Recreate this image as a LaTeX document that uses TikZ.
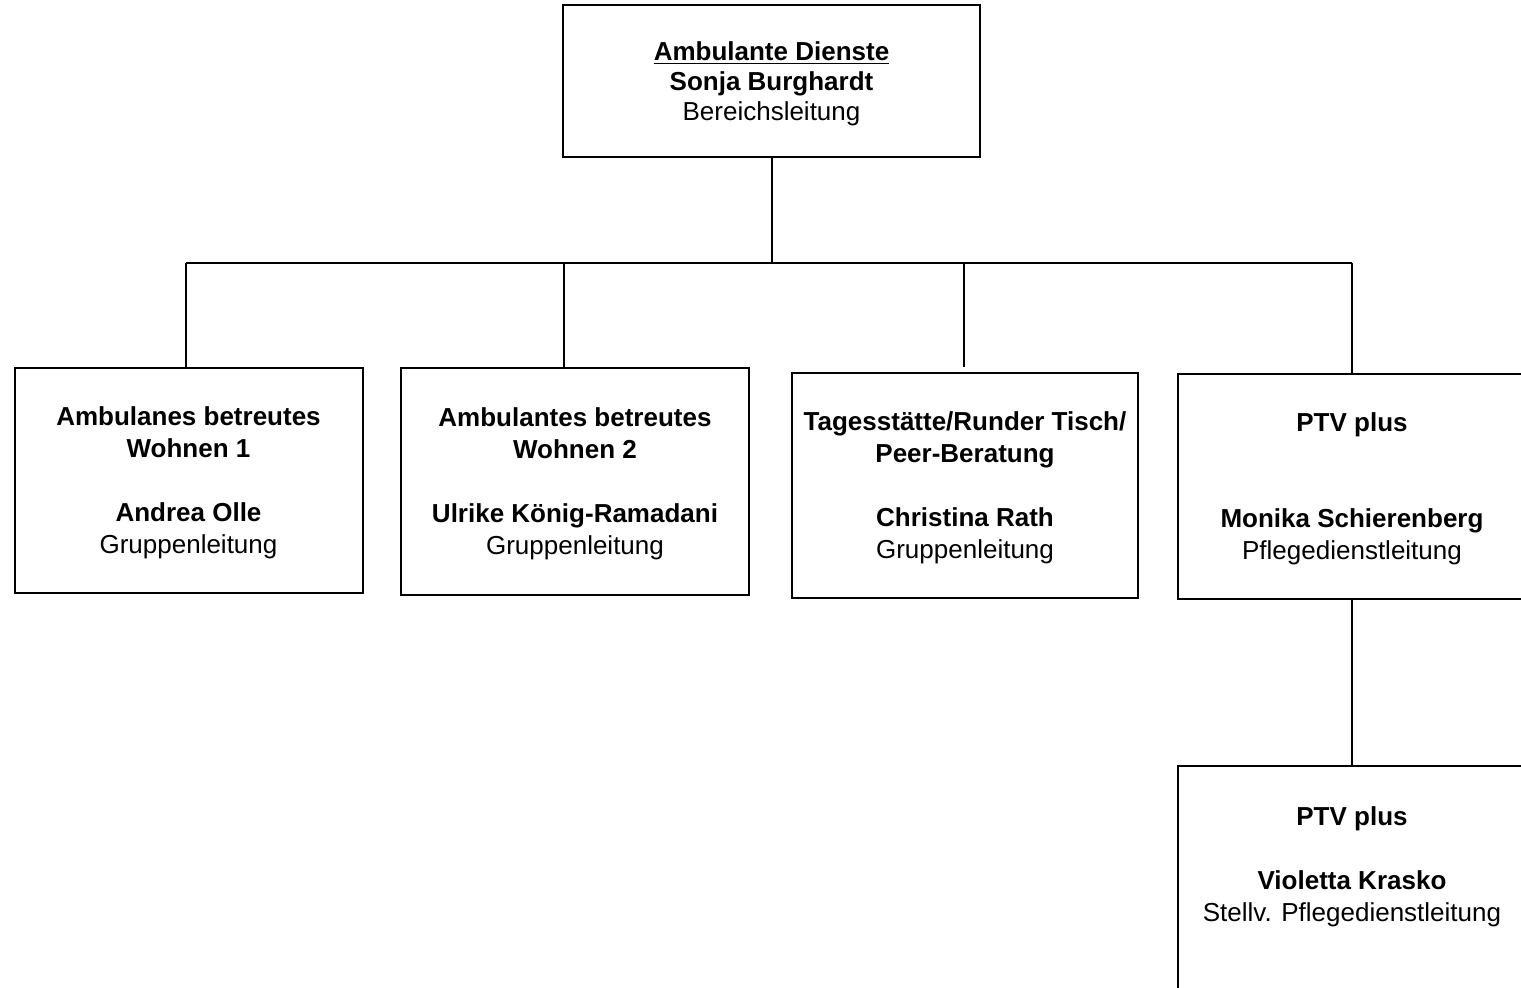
\documentclass[tikz,border=0pt]{standalone}
\usepackage{fontspec}
\setmainfont{Liberation Sans}
\usepackage{tikz}
\usetikzlibrary{positioning,calc}

\tikzset{
    orgbox/.style={draw, line width=1pt, rectangle, inner sep=0pt, align=center,
        minimum width=174pt, minimum height=113pt, text depth=-4pt,
        font=\fontsize{13}{16}\selectfont},
    link/.style={line width=1pt}
}

\begin{document}
\begin{tikzpicture}[x=0.5pt,y=-0.5pt]
    \useasboundingbox (0,0) rectangle (1521,988);
    \clip (0,0) rectangle (1521,988);

    % Leitung
    \node[orgbox, minimum width=208.5pt, minimum height=76pt,
          font=\fontsize{13}{15}\selectfont] (lead) at (771.5,81)
        {\textbf{\underline{Ambulante Dienste}}\\\textbf{Sonja Burghardt}\\Bereichsleitung};

    % Gruppen
    \node[orgbox, minimum height=112.5pt] (abw1) at (188.5,480.5)
        {\textbf{Ambulanes betreutes}\\\textbf{Wohnen 1}\\[16pt]\textbf{Andrea Olle}\\Gruppenleitung};
    \node[orgbox, minimum height=113.5pt] (abw2) at (575,481.5)
        {\textbf{Ambulantes betreutes}\\\textbf{Wohnen 2}\\[16pt]\textbf{Ulrike König-Ramadani}\\Gruppenleitung};
    \node[orgbox, minimum width=173pt, minimum height=112.5pt] (tages) at (965,485.5)
        {\textbf{Tagesstätte/Runder Tisch/}\\\textbf{Peer-Beratung}\\[16pt]\textbf{Christina Rath}\\Gruppenleitung};
    \node[orgbox, minimum height=112.5pt] (ptv) at (1352,486.5)
        {\textbf{PTV plus}\\[32pt]\textbf{Monika Schierenberg}\\Pflegedienstleitung};

    % Stellvertretung
    \node[orgbox, anchor=north, minimum height=114.5pt, text depth=0pt] (ptvst) at (1352,765)
        {\textbf{PTV plus}\\[16pt]\textbf{Violetta Krasko}\\Stellv. Pflegedienstleitung\\\mbox{}};

    % Linien
    \coordinate (bus) at (772,263);
    \coordinate (d1) at (186,263);
    \coordinate (d2) at (564,263);
    \coordinate (d3) at (964,263);
    \coordinate (d4) at (1352,263);
    \draw[link] (lead.south -| bus) -- (bus);
    \draw[link] (d1) -- (d4);
    \draw[link] (d1) -- (d1 |- abw1.north);
    \draw[link] (d2) -- (d2 |- abw2.north);
    \draw[link] (d3) -- ($(d3 |- tages.north)+(0,-5)$);
    \draw[link] (d4) -- ($(d4 |- ptv.north)+(0,2)$);
    \draw[link] (ptv.south) -- (ptvst.north);
\end{tikzpicture}
\end{document}
